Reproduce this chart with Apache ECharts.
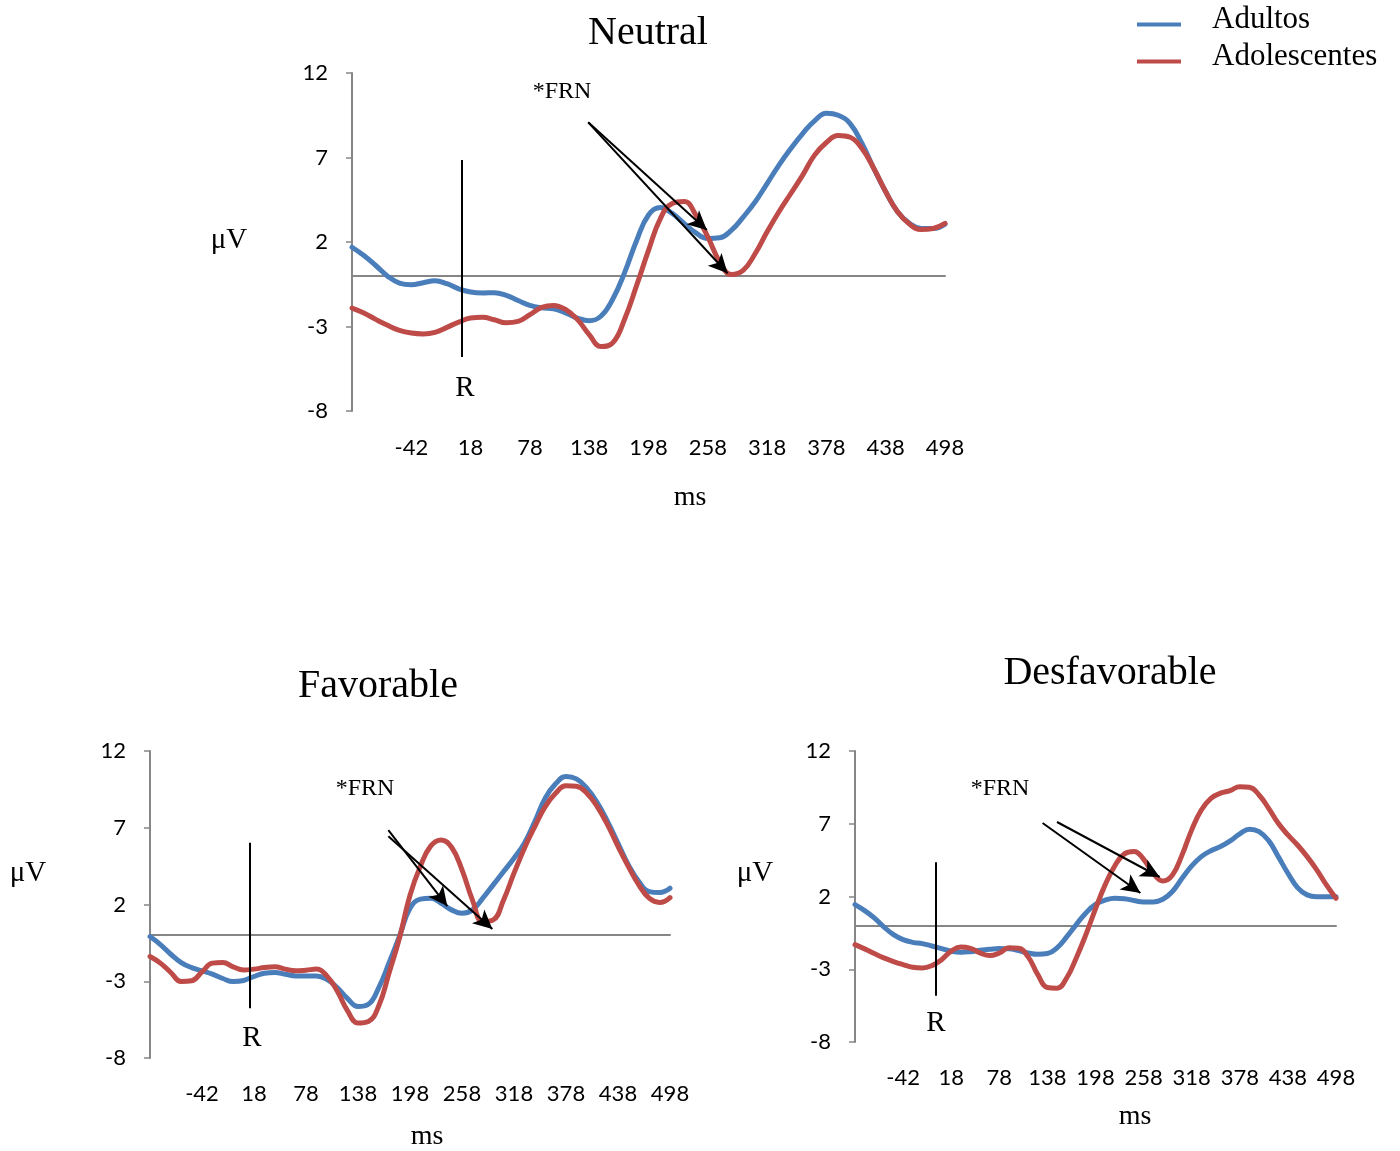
<!DOCTYPE html>
<html>
<head>
<meta charset="utf-8">
<script src="https://cdn.jsdelivr.net/npm/echarts@6/dist/echarts.min.js"></script>
<style>
  html, body { margin: 0; background: #fff; }
  #chart { width: 1400px; height: 1151px; }
</style>
</head>
<body>
<div id="chart"></div>
<script>
// eje x: tiempo en ms (muestras cada 12 ms)
const ms = [-102, -90, -78, -66, -54, -42, -30, -18, -6, 6, 18, 30, 42, 54, 66, 78, 90, 102, 114, 126,
  138, 150, 162, 174, 186, 198, 210, 222, 234, 246, 258, 270, 282, 294, 306, 318, 330, 342, 354, 366,
  378, 390, 402, 414, 426, 438, 450, 462, 474, 486, 498]
const xLabels = [-42, 18, 78, 138, 198, 258, 318, 378, 438, 498]
const yLabels = [-8, -3, 2, 7, 12]

// Neutral
const neutralAdultos = [1.69, 1.2, 0.61, -0.02, -0.43, -0.53, -0.41, -0.3, -0.47, -0.77, -0.96, -1.02, -1.0, -1.16, -1.46, -1.75, -1.89, -1.95, -2.19, -2.5,
  -2.66, -2.38, -1.36, 0.22, 2.09, 3.6, 4.04, 3.69, 3.1, 2.54, 2.21, 2.25, 2.7, 3.49, 4.38, 5.46, 6.55, 7.53, 8.42, 9.17,
  9.62, 9.5, 9.01, 7.83, 6.35, 4.97, 3.79, 3.1, 2.8, 2.8, 3.06]
const neutralAdolescentes = [-1.91, -2.2, -2.58, -2.93, -3.23, -3.39, -3.44, -3.35, -3.05, -2.74, -2.5, -2.46, -2.6, -2.78, -2.7, -2.3, -1.87, -1.75, -1.99, -2.58,
  -3.48, -4.19, -3.96, -2.54, -0.57, 1.5, 3.39, 4.28, 4.4, 3.59, 2.31, 0.83, 0.08, 0.34, 1.32, 2.6, 3.79, 4.87, 5.96, 7.14,
  7.89, 8.3, 8.2, 7.53, 6.35, 4.97, 3.79, 3.06, 2.74, 2.8, 3.1]

// Favorable
const favorableAdultos = [-0.09, -0.61, -1.24, -1.78, -2.11, -2.32, -2.54, -2.82, -3.02, -2.95, -2.69, -2.48, -2.43, -2.54, -2.65, -2.65, -2.65, -2.87, -3.41, -4.13,
  -4.65, -4.5, -3.41, -1.78, -0.04, 1.75, 2.35, 2.41, 2.08, 1.65, 1.43, 1.65, 2.41, 3.28, 4.15, 5.02, 5.99, 7.4, 8.93, 9.86,
  10.34, 10.18, 9.58, 8.64, 7.4, 5.99, 4.58, 3.5, 2.84, 2.78, 3.06]
const favorableAdolescentes = [-1.39, -1.82, -2.43, -3.02, -2.97, -2.39, -1.82, -1.78, -2.06, -2.26, -2.21, -2.11, -2.06, -2.21, -2.32, -2.28, -2.21, -2.65, -3.63, -4.93,
  -5.72, -5.62, -4.6, -2.43, -0.15, 2.6, 4.5, 5.82, 6.21, 5.73, 4.26, 2.3, 0.89, 1.0, 2.3, 4.04, 5.67, 7.08, 8.38, 9.25,
  9.74, 9.7, 9.25, 8.38, 7.19, 5.78, 4.47, 3.28, 2.41, 2.13, 2.45]

// Desfavorable
const desfavorableAdultos = [1.44, 1.03, 0.53, -0.09, -0.62, -0.96, -1.15, -1.24, -1.4, -1.58, -1.76, -1.83, -1.79, -1.7, -1.63, -1.58, -1.6, -1.72, -1.88, -1.97,
  -1.92, -1.53, -0.78, 0.07, 0.87, 1.46, 1.75, 1.88, 1.85, 1.72, 1.63, 1.63, 1.81, 2.34, 3.25, 4.1, 4.74, 5.15, 5.43, 5.82,
  6.3, 6.62, 6.46, 5.84, 4.74, 3.6, 2.61, 2.11, 1.99, 1.99, 1.99]
const desfavorableAdolescentes = [-1.31, -1.6, -1.92, -2.22, -2.47, -2.68, -2.86, -2.91, -2.75, -2.34, -1.76, -1.47, -1.56, -1.88, -2.06, -1.88, -1.53, -1.56, -2.15, -3.37,
  -4.25, -4.3, -3.6, -2.22, -0.62, 1.15, 2.8, 4.1, 4.93, 5.09, 4.56, 3.6, 3.07, 3.48, 4.86, 6.58, 7.95, 8.75, 9.1, 9.28,
  9.55, 9.51, 8.98, 8.06, 7.03, 6.23, 5.54, 4.74, 3.83, 2.8, 1.88]

const blue = '#4a7ebb'
const red = '#be4b48'
const gray = '#868686'
const serif = '"Liberation Serif", "DejaVu Serif", serif'
const sans = 'Lato, "Noto Sans", sans-serif'

// un panel por condicion; r = linea de respuesta [ms, desde, hasta], arrows = [ms0, v0, ms1, v1]
const panels = [
  {
    title: 'Neutral', adultos: neutralAdultos, adolescentes: neutralAdolescentes,
    grid: { left: 352, top: 73, width: 593, height: 338 }, labelMargin: 26,
    r: [9, 6.85, -4.8], arrows: [[137, 9.08, 257, 2.71], [137, 9.08, 278, 0.15]],
    titlePos: [648, 33], uvPos: [229, 240], msPos: [690, 498], rPos: [465, 388], frnPos: [562, 92]
  },
  {
    title: 'Favorable', adultos: favorableAdultos, adolescentes: favorableAdolescentes,
    grid: { left: 150, top: 751, width: 520, height: 307 }, labelMargin: 25,
    r: [13, 6.03, -4.76], arrows: [[173, 6.85, 241, 1.9], [173, 6.45, 293, 0.4]],
    titlePos: [378, 686], uvPos: [28, 873], msPos: [427, 1137], rPos: [252, 1038], frnPos: [365, 789]
  },
  {
    title: 'Desfavorable', adultos: desfavorableAdultos, adolescentes: desfavorableAdolescentes,
    grid: { left: 855, top: 751, width: 481, height: 291 }, labelMargin: 25,
    r: [-1.6, 4.35, -4.82], arrows: [[150, 7.12, 278, 3.34], [132, 7.05, 254, 2.24]],
    titlePos: [1110, 673], uvPos: [755, 873], msPos: [1135, 1117], rPos: [936, 1023], frnPos: [1000, 789]
  }
]

function pairs(values) {
  return ms.map((m, i) => [m, values[i]])
}

function text(str, pos, size) {
  return {
    type: 'text', x: pos[0], y: pos[1], silent: true,
    style: { text: str, fontFamily: serif, fontSize: size, fill: '#000', align: 'center', verticalAlign: 'middle' }
  }
}

const grids = []
const xAxes = []
const yAxes = []
const series = []
const graphics = []

panels.forEach((p, i) => {
  grids.push(p.grid)
  // eje con etiquetas abajo
  xAxes.push({
    gridIndex: i, type: 'value', min: -102, max: 498, position: 'bottom',
    axisLine: { show: false, onZero: false }, axisTick: { show: false }, splitLine: { show: false },
    axisLabel: { customValues: xLabels, margin: p.labelMargin, color: '#000', fontSize: 22, fontFamily: sans }
  })
  // linea del cero
  xAxes.push({
    gridIndex: i, type: 'value', min: -102, max: 498, position: 'top',
    axisLine: { show: true, onZero: true, lineStyle: { color: gray, width: 2 } },
    axisTick: { show: false }, axisLabel: { show: false }, splitLine: { show: false }
  })
  yAxes.push({
    gridIndex: i, type: 'value', min: -8, max: 12,
    axisLine: { show: true, onZero: false, lineStyle: { color: gray, width: 2 } },
    axisTick: { show: true, length: 6, customValues: yLabels, lineStyle: { color: gray, width: 1.5 } },
    axisLabel: { customValues: yLabels, margin: 24, color: '#000', fontSize: 22, fontFamily: sans },
    splitLine: { show: false }
  })

  series.push({
    name: 'Adultos', type: 'line', xAxisIndex: 2 * i, yAxisIndex: i,
    data: pairs(p.adultos), smooth: 0.45, showSymbol: false, silent: true, z: 3,
    lineStyle: { color: blue, width: 5, cap: 'round' }, itemStyle: { color: blue }
  })

  const marks = [[{ coord: [p.r[0], p.r[1]] }, { coord: [p.r[0], p.r[2]] }]]
  p.arrows.forEach(a => {
    marks.push([
      { coord: [a[0], a[1]], symbol: 'none' },
      { coord: [a[2], a[3]], symbol: 'arrow', symbolSize: [14, 19] }
    ])
  })
  series.push({
    name: 'Adolescentes', type: 'line', xAxisIndex: 2 * i, yAxisIndex: i,
    data: pairs(p.adolescentes), smooth: 0.45, showSymbol: false, silent: true, z: 4,
    lineStyle: { color: red, width: 5, cap: 'round' }, itemStyle: { color: red },
    markLine: {
      silent: true, symbol: 'none', animation: false,
      label: { show: false },
      lineStyle: { color: '#000', width: 2, type: 'solid' },
      itemStyle: { color: '#000' },
      data: marks
    }
  })

  graphics.push(text(p.title, p.titlePos, 40))
  graphics.push(text('μV', p.uvPos, 29))
  graphics.push(text('ms', p.msPos, 28))
  graphics.push(text('R', p.rPos, 29))
  graphics.push(text('*FRN', p.frnPos, 24))
})

const chart = echarts.init(document.getElementById('chart'))
chart.setOption({
  animation: false,
  backgroundColor: '#fff',
  legend: {
    data: ['Adultos', 'Adolescentes'], orient: 'vertical', left: 1137, top: 4, padding: 0,
    icon: 'rect', itemWidth: 44, itemHeight: 4, itemGap: 6, selectedMode: false,
    formatter: '{t|{name}}',
    textStyle: {
      color: '#000',
      rich: { t: { fontFamily: serif, fontSize: 31, color: '#000', padding: [0, 0, 10, 26] } }
    }
  },
  grid: grids,
  xAxis: xAxes,
  yAxis: yAxes,
  series: series,
  graphic: graphics
})
</script>
</body>
</html>
